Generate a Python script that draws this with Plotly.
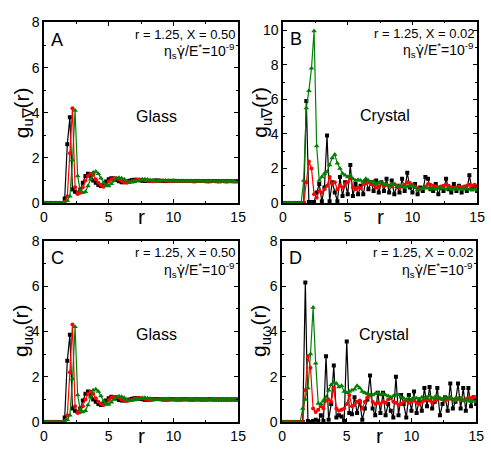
import plotly.graph_objects as go

# r grid (step 0.2 from 0 to 15)
r = [0.0, 0.2, 0.4, 0.6, 0.8, 1.0, 1.2, 1.4, 1.6, 1.8,
     2.0, 2.2, 2.4, 2.6, 2.8, 3.0, 3.2, 3.4, 3.6, 3.8,
     4.0, 4.2, 4.4, 4.6, 4.8, 5.0, 5.2, 5.4, 5.6, 5.8,
     6.0, 6.2, 6.4, 6.6, 6.8, 7.0, 7.2, 7.4, 7.6, 7.8,
     8.0, 8.2, 8.4, 8.6, 8.8, 9.0, 9.2, 9.4, 9.6, 9.8,
     10.0, 10.2, 10.4, 10.6, 10.8, 11.0, 11.2, 11.4, 11.6, 11.8,
     12.0, 12.2, 12.4, 12.6, 12.8, 13.0, 13.2, 13.4, 13.6, 13.8,
     14.0, 14.2, 14.4, 14.6, 14.8, 15.0]

# Panel A: glass, g_u∇
A_black = [0, 0, 0, 0, 0, 0, 0, 0, 0.2, 2.6,
           3.8, 0.6, 0.5, 0.45, 0.6, 0.9, 1.2, 1.3, 1.2, 1.0,
           0.9, 0.8, 0.75, 0.8, 0.95, 1.05, 1.1, 1.08, 1.02, 0.96,
           0.92, 0.92, 0.95, 0.99, 1.02, 1.03, 1.03, 1.01, 0.99, 0.97,
           0.97, 0.98, 0.99, 1.0, 1.0, 0.99, 0.98, 0.97, 0.97, 0.98,
           0.99, 0.98, 0.98, 0.97, 0.97, 0.98, 0.98, 0.97, 0.96, 0.97,
           0.97, 0.98, 0.97, 0.96, 0.96, 0.97, 0.97, 0.96, 0.96, 0.97,
           0.96, 0.96, 0.97, 0.96, 0.96, 0.96]
A_red = [0, 0, 0, 0, 0, 0, 0, 0, 0.05, 0.3,
         2.2, 4.2, 0.7, 0.4, 0.45, 0.7, 1.0, 1.2, 1.3, 1.25,
         1.05, 0.9, 0.8, 0.72, 0.8, 0.95, 1.05, 1.1, 1.1, 1.05,
         0.97, 0.92, 0.9, 0.92, 0.96, 1.0, 1.03, 1.04, 1.04, 1.02,
         0.99, 0.97, 0.96, 0.97, 0.98, 0.99, 1.0, 0.99, 0.98, 0.97,
         0.97, 0.98, 0.98, 0.97, 0.97, 0.97, 0.98, 0.97, 0.97, 0.96,
         0.97, 0.97, 0.96, 0.96, 0.97, 0.97, 0.96, 0.96, 0.96, 0.97,
         0.96, 0.96, 0.96, 0.96, 0.96, 0.96]
A_green = [0, 0, 0, 0, 0, 0, 0, 0, 0, 0.1,
           0.3, 1.9, 4.1, 1.2, 0.55, 0.45, 0.5, 0.75, 1.05, 1.35,
           1.4, 1.3, 1.1, 0.9, 0.78, 0.75, 0.85, 0.98, 1.08, 1.12,
           1.1, 1.05, 0.98, 0.93, 0.92, 0.94, 0.98, 1.01, 1.04, 1.05,
           1.04, 1.02, 0.99, 0.98, 0.97, 0.98, 0.99, 1.0, 1.0, 0.99,
           0.98, 0.97, 0.97, 0.98, 0.98, 0.98, 0.97, 0.97, 0.97, 0.98,
           0.97, 0.97, 0.96, 0.97, 0.97, 0.97, 0.96, 0.96, 0.97, 0.96,
           0.96, 0.96, 0.96, 0.96, 0.96, 0.96]

# Panel B: crystal, g_u∇
B_black = [0, 0, 0, 0, 0, 0, 0, 0, 0, 5.9,
           0.05, 0.05, 0.05, 0.6, 1.1, 0.1, 0.9, 3.9, 0.1, 1.2,
           0.6, 0.1, 1.5, 0.4, 1.2, 0.5, 2.2, 0.4, 1.1, 0.5,
           1.0, 0.5, 1.3, 0.8, 1.2, 0.7, 1.3, 0.6, 1.2, 0.7,
           1.4, 0.6, 1.3, 0.5, 1.0, 0.6, 1.4, 0.7, 1.75, 0.9,
           0.6, 1.1, 0.5, 0.9, 0.7, 1.5, 1.4, 0.8, 0.7, 1.1,
           0.5, 0.9, 0.7, 1.4, 0.8, 0.6, 1.1, 0.7, 1.0, 0.6,
           0.9, 0.7, 1.6, 0.8, 1.0, 0.7]
B_red = [0, 0, 0, 0, 0, 0, 0, 0, 0, 1.2,
         2.4, 2.0, 0.5, 0.3, 0.7, 0.6, 0.8, 1.0, 1.5, 1.1,
         1.2, 0.8, 1.0, 0.9, 1.1, 1.2, 1.45, 0.9, 0.8, 0.9,
         0.85, 1.1, 1.15, 1.2, 1.1, 1.05, 0.9, 0.95, 1.1, 1.0,
         1.05, 1.0, 0.95, 1.1, 1.0, 0.9, 0.95, 1.05, 1.2, 1.15,
         1.05, 0.95, 0.85, 0.8, 0.85, 0.95, 1.1, 1.05, 1.0, 0.95,
         0.9, 0.95, 1.0, 1.05, 1.0, 0.9, 0.85, 0.9, 0.95, 0.9,
         0.95, 1.0, 1.05, 1.0, 1.05, 0.95]
B_green = [0, 0, 0, 0, 0, 0, 0, 0, 1.3, 5.5,
           6.5, 7.8, 9.95, 3.3, 1.3, 1.5, 1.7, 1.8, 2.2, 2.6,
           2.8, 2.3, 2.0, 1.7, 1.6, 1.5, 1.6, 1.4, 1.3, 1.35,
           1.3, 1.25, 1.4, 1.3, 1.2, 1.25, 1.1, 1.15, 1.2, 1.1,
           1.05, 1.0, 1.1, 1.05, 0.95, 1.0, 0.95, 0.9, 0.95, 1.0,
           0.95, 0.9, 0.75, 0.8, 0.85, 0.9, 0.85, 0.8, 0.85, 0.8,
           0.85, 0.9, 0.85, 0.8, 0.85, 0.8, 0.85, 0.8, 0.8, 0.85,
           0.8, 0.85, 0.8, 0.75, 0.8, 0.75]

# Panel C: glass, g_uω
C_black = [0, 0, 0, 0, 0, 0, 0, 0, 0.2, 2.7,
           3.85, 0.6, 0.5, 0.45, 0.6, 0.95, 1.25, 1.35, 1.2, 1.0,
           0.9, 0.8, 0.75, 0.8, 0.95, 1.05, 1.12, 1.1, 1.04, 0.98,
           0.95, 0.95, 0.97, 1.0, 1.03, 1.05, 1.05, 1.03, 1.01, 0.99,
           0.99, 1.0, 1.01, 1.02, 1.02, 1.01, 1.0, 1.0, 1.0, 1.01,
           1.01, 1.0, 1.0, 1.0, 1.01, 1.01, 1.0, 1.0, 1.0, 1.01,
           1.0, 1.0, 1.0, 1.0, 1.01, 1.0, 1.0, 1.0, 1.0, 1.0,
           1.0, 1.0, 1.0, 1.0, 1.0, 1.0]
C_red = [0, 0, 0, 0, 0, 0, 0, 0, 0.05, 0.3,
         2.2, 4.3, 0.7, 0.4, 0.45, 0.7, 1.0, 1.25, 1.35, 1.25,
         1.05, 0.9, 0.8, 0.75, 0.82, 0.97, 1.08, 1.12, 1.12, 1.07,
         1.0, 0.95, 0.93, 0.95, 0.99, 1.03, 1.05, 1.06, 1.05, 1.03,
         1.0, 0.99, 0.99, 1.0, 1.01, 1.02, 1.02, 1.01, 1.0, 1.0,
         1.0, 1.01, 1.01, 1.0, 1.0, 1.0, 1.01, 1.0, 1.0, 1.0,
         1.0, 1.0, 1.0, 1.0, 1.0, 1.0, 1.0, 1.0, 1.0, 1.0,
         1.0, 1.0, 1.0, 1.0, 1.0, 1.0]
C_green = [0, 0, 0, 0, 0, 0, 0, 0, 0, 0.1,
           0.3, 1.9, 4.2, 1.2, 0.55, 0.45, 0.5, 0.75, 1.1, 1.4,
           1.45, 1.35, 1.15, 0.92, 0.8, 0.78, 0.88, 1.0, 1.1, 1.14,
           1.12, 1.07, 1.0, 0.96, 0.95, 0.97, 1.0, 1.03, 1.06, 1.07,
           1.05, 1.03, 1.01, 1.0, 0.99, 1.0, 1.01, 1.02, 1.02, 1.01,
           1.0, 1.0, 1.0, 1.01, 1.01, 1.01, 1.0, 1.0, 1.0, 1.01,
           1.0, 1.0, 1.0, 1.0, 1.0, 1.0, 1.0, 1.0, 1.0, 1.0,
           1.0, 1.0, 1.0, 1.0, 1.0, 1.0]

# Panel D: crystal, g_uω
D_black = [0, 0, 0, 0, 0, 0, 0, 0, 0, 6.15,
           0.05, 0.0, 0.05, 0.1, 0.05, 0.3, 0.05, 2.9, 0.1, 0.8,
           2.5, 0.2, 0.3, 0.25, 0.05, 3.55, 0.4, 0.35, 1.1, 0.4,
           0.9, 0.1, 0.6, 1.0, 2.05, 0.6, 0.3, 1.3, 0.4, 1.3,
           0.3, 0.8, 0.5, 0.2, 2.0, 0.3, 1.2, 0.8, 0.2, 1.2,
           0.5, 1.35, 0.4, 1.0, 0.5, 1.5, 0.7, 1.55, 0.6, 0.9,
           1.5, 0.3, 0.8, 1.1, 0.5, 1.7, 0.6, 0.9, 1.7, 0.6,
           1.5, 0.5, 1.5, 0.7, 1.1, 0.8]
D_red = [0, 0, 0, 0, 0, 0, 0, 0, 0, 1.4,
         2.9, 2.4, 0.6, 0.45, 0.55, 0.7, 0.6, 0.95, 1.0, 0.9,
         1.5, 0.6, 0.5, 0.55, 0.6, 0.8, 1.2, 0.7, 0.75, 0.9,
         0.95, 0.6, 0.9, 1.1, 1.2, 0.9, 0.8, 0.85, 0.8, 0.9,
         0.85, 1.0, 1.05, 0.9, 0.85, 0.75, 0.8, 0.9, 0.95, 0.85,
         0.9, 0.95, 0.85, 0.8, 0.9, 0.95, 1.0, 0.95, 0.85, 0.95,
         1.0, 1.05, 1.0, 0.95, 1.0, 1.05, 1.0, 0.95, 1.05, 1.0,
         0.95, 1.0, 1.1, 1.05, 1.1, 1.0]
D_green = [0, 0, 0, 0, 0, 0, 0, 0, 0.6, 1.0,
           1.5, 3.0, 5.05, 2.6, 0.82, 0.8, 0.95, 1.1, 1.4, 1.65,
           1.75, 1.7, 1.55, 1.6, 1.35, 1.3, 1.35, 1.4, 1.45, 1.6,
           1.5, 1.35, 1.3, 1.25, 1.2, 1.2, 1.25, 1.3, 1.2, 1.25,
           1.2, 1.15, 1.1, 1.15, 1.2, 1.2, 1.1, 1.05, 1.0, 1.05,
           1.0, 1.1, 1.05, 1.0, 1.1, 1.05, 1.1, 1.15, 1.05, 1.1,
           1.15, 1.05, 1.0, 1.1, 1.05, 1.1, 1.0, 1.05, 1.0, 1.05,
           0.95, 1.0, 0.95, 0.9, 0.95, 0.9]

x_ticks = [0, 5, 10, 15]
panel_letters = ["A", "B", "C", "D"]
phase_labels = ["Glass", "Crystal", "Glass", "Crystal"]
param_lines = ["r = 1.25, X = 0.50", "r = 1.25, X = 0.02",
               "r = 1.25, X = 0.50", "r = 1.25, X = 0.02"]
rate_label = ("η<sub>s</sub><span style='font-family:DejaVu Sans'>γ̇</span>"
              "/E<sup>*</sup>=10<sup>-9</sup>")
ylabels = ["g<sub>u∇</sub>(r)", "g<sub>u∇</sub>(r)", "g<sub>uω</sub>(r)", "g<sub>uω</sub>(r)"]
y_max = [8, 10.5, 8, 8]
y_dtick = [2, 2, 2, 2]

W, H = 491, 461
# plot-area pixel boxes (left, right, top, bottom)
boxes = [(41, 240, 15, 202), (286, 485, 14, 202), (41, 240, 241, 429), (285, 484, 241, 429)]

FONT = "Liberation Sans, Arial, sans-serif"
colors = {"black": "#000000", "red": "#ff0000", "green": "#008000"}

series = [(A_black, A_red, A_green), (B_black, B_red, B_green),
          (C_black, C_red, C_green), (D_black, D_red, D_green)]

fig = go.Figure()
layout = dict(width=W, height=H, margin=dict(l=0, r=0, t=0, b=0),
              paper_bgcolor="white", plot_bgcolor="white", showlegend=False,
              font=dict(family=FONT, color="black"))
annotations = []

for k in range(4):
    L, R, T, B = boxes[k]
    xa = "xaxis" if k == 0 else f"xaxis{k+1}"
    ya = "yaxis" if k == 0 else f"yaxis{k+1}"
    xr = "x" if k == 0 else f"x{k+1}"
    yr = "y" if k == 0 else f"y{k+1}"
    bl, rd, gr = series[k]
    for vals, col, sym, sz in [(bl, "black", "square", 4), (rd, "red", "circle", 4),
                               (gr, "green", "triangle-up", 5)]:
        fig.add_trace(go.Scatter(x=r, y=vals, xaxis=xr, yaxis=yr, mode="lines+markers",
                                 line=dict(color=colors[col], width=1.2),
                                 marker=dict(color=colors[col], symbol=sym, size=sz)))
    common = dict(showline=True, linecolor="black", linewidth=1.5, mirror="ticks",
                  ticks="inside", ticklen=4, tickwidth=1, tickcolor="black",
                  showgrid=False, zeroline=False,
                  tickfont=dict(family=FONT, size=14, color="black"))
    layout[xa] = dict(common, domain=[L / W, R / W], anchor=yr, range=[0, 15],
                      tickvals=x_ticks,
                      minor=dict(ticks="inside", ticklen=2, tickcolor="black", dtick=2.5))
    layout[ya] = dict(common, domain=[1 - B / H, 1 - T / H], anchor=xr,
                      range=[0, y_max[k]], dtick=y_dtick[k],
                      minor=dict(ticks="inside", ticklen=2, tickcolor="black", dtick=1))
    cx = (L + R) / 2
    annotations.append(dict(x=(L + 5) / W, y=1 - (T + 18) / H, xref="paper", yref="paper",
                            text=panel_letters[k], showarrow=False, xanchor="left", yanchor="middle",
                            font=dict(family=FONT, size=18, color="black")))
    annotations.append(dict(x=(R - 1) / W, y=1 - (T + 12) / H, xref="paper", yref="paper",
                            text=param_lines[k], showarrow=False, xanchor="right", yanchor="middle",
                            font=dict(family=FONT, size=13, color="black")))
    annotations.append(dict(x=(R - 1) / W, y=1 - (T + 30) / H, xref="paper", yref="paper",
                            text=rate_label, showarrow=False, xanchor="right", yanchor="middle",
                            font=dict(family=FONT, size=14, color="black")))
    annotations.append(dict(x=(cx + 16 if k % 2 == 0 else cx + 5) / W, y=1 - (T + 97) / H,
                            xref="paper", yref="paper",
                            text=phase_labels[k], showarrow=False, xanchor="center", yanchor="middle",
                            font=dict(family=FONT, size=16, color="black")))
    annotations.append(dict(x=cx / W, y=1 - (B + 14) / H, xref="paper", yref="paper",
                            text="r", showarrow=False, xanchor="center", yanchor="middle",
                            font=dict(family=FONT, size=21, color="black")))
    annotations.append(dict(x=(L - 22) / W, y=1 - ((T + B) / 2) / H, xref="paper", yref="paper",
                            text=ylabels[k], showarrow=False, textangle=-90,
                            xanchor="center", yanchor="middle",
                            font=dict(family=FONT, size=21, color="black")))

layout["annotations"] = annotations
fig.update_layout(**layout)
fig.write_html("out.html")
